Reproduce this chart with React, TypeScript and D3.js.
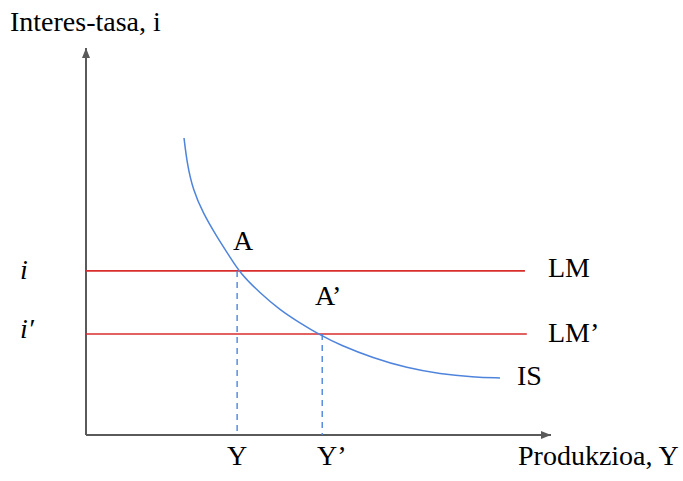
import React from "react";
import * as d3 from "d3";

const isCurveX = [21.08, 21.72, 23.01, 25.16, 28.17, 30.97, 33.12, 37.42, 41.72, 46.02, 50.32, 54.62, 61.72, 69.03, 76.13, 83.23, 89.03];
const isCurveY = [76.74, 70.28, 63.31, 57.36, 51.16, 45.99, 41.86, 36.69, 32.3, 28.94, 25.84, 23.26, 19.9, 17.31, 15.76, 14.99, 14.73];
const lmLevels = [42.4, 26.1];
const lmEnds = [94.4, 94.8];
const lmLabels = ["LM", "LM\u2019"];
const rateLabels = ["i", "i\u2032"];
const equilibriumX = [32.5, 50.8];
const pointLabels = ["A", "A\u2019"];
const outputLabels = ["Y", "Y\u2019"];

export default function App() {
  const W = 683, H = 481;
  const x = d3.scaleLinear().domain([0, 100]).range([86, 551]);
  const y = d3.scaleLinear().domain([0, 100]).range([435, 48]);
  const pts: [number, number][] = isCurveX.map((v, i) => [v, isCurveY[i]]);
  const line = d3.line<[number, number]>().x(d => x(d[0])).y(d => y(d[1])).curve(d3.curveBasis);
  const font = "'Liberation Serif', 'Times New Roman', serif";
  const red = "#d92d2d";
  const blue = "#4f84dc";
  const axis = "#5a5a5a";
  const fs = 28;
  return (
    <svg width={W} height={H} style={{ position: "absolute", left: 0, top: 0, background: "#fff" }} fontFamily={font}>
      <defs>
        <marker id="arr" viewBox="0 0 10 10" refX="10" refY="5" markerWidth="10" markerHeight="10" markerUnits="userSpaceOnUse" orient="auto">
          <path d="M0,1 L10,5 L0,9 Z" fill={axis} />
        </marker>
      </defs>
      <line x1={x(0)} y1={y(0)} x2={x(0)} y2={y(100)} stroke={axis} strokeWidth={2} markerEnd="url(#arr)" />
      <line x1={x(0)} y1={y(0)} x2={x(100)} y2={y(0)} stroke={axis} strokeWidth={2} markerEnd="url(#arr)" />
      {lmLevels.map((lv, i) => (
        <line key={i} x1={x(0)} y1={y(lv)} x2={x(lmEnds[i])} y2={y(lv)} stroke={red} strokeWidth={1.6} />
      ))}
      {equilibriumX.map((ex, i) => (
        <line key={i} x1={x(ex)} y1={y(lmLevels[i])} x2={x(ex)} y2={y(0)} stroke={blue} strokeWidth={1.4} strokeDasharray="6,5" />
      ))}
      <path d={line(pts) || ""} fill="none" stroke={blue} strokeWidth={1.5} />
      <text x={10} y={31} fontSize={fs} fill="#000">Interes-tasa, i</text>
      {rateLabels.map((t, i) => (
        <text key={i} x={20} y={[279, 338][i]} fontSize={fs} fontStyle="italic" fill="#000">{t}</text>
      ))}
      {pointLabels.map((t, i) => (
        <text key={i} x={[233, 315][i]} y={[250, 305][i]} fontSize={fs} fill="#000">{t}</text>
      ))}
      {lmLabels.map((t, i) => (
        <text key={i} x={548} y={[277, 342][i]} fontSize={fs} fill="#000">{t}</text>
      ))}
      <text x={517} y={385} fontSize={fs} fill="#000">IS</text>
      {outputLabels.map((t, i) => (
        <text key={i} x={[227, 317][i]} y={465} fontSize={fs} fill="#000">{t}</text>
      ))}
      <text x={518} y={465} fontSize={fs} fill="#000">Produkzioa, Y</text>
    </svg>
  );
}
